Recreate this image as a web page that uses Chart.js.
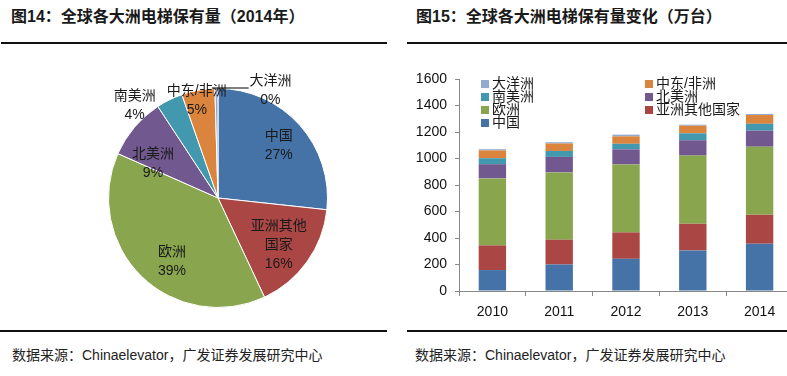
<!DOCTYPE html>
<html>
<head>
<meta charset="utf-8">
<script src="https://cdn.jsdelivr.net/npm/chart.js@4/dist/chart.umd.min.js"></script>
<style>
  html, body { margin:0; padding:0; background:#fff; }
  #wrap { position:relative; width:787px; height:376px; overflow:hidden; background:#fff; }
  .title { position:absolute; font: bold 16px 'Liberation Sans','Noto Sans CJK SC',sans-serif; color:#1a1a1a; line-height:16px; white-space:nowrap; }
  .src { position:absolute; font: 14px 'Liberation Sans','Noto Sans CJK SC',sans-serif; color:#222; line-height:14px; white-space:nowrap; }
  .rule { position:absolute; height:2px; background:#111; }
  canvas { position:absolute; }
</style>
</head>
<body>
<div id="wrap">
  <div class="title" style="left:11px;top:9px;">图14：全球各大洲电梯保有量（2014年）</div>
  <div class="title" style="left:416px;top:9px;">图15：全球各大洲电梯保有量变化（万台）</div>
  <div class="rule" style="left:1px;top:42px;width:386px;"></div>
  <div class="rule" style="left:407px;top:42px;width:380px;"></div>
  <canvas id="pie" width="400" height="286" style="left:0;top:44px;width:400px;height:286px;"></canvas>
  <canvas id="bar" width="393" height="270" style="left:400px;top:60px;width:393px;height:270px;"></canvas>
  <div class="rule" style="left:0;top:330px;width:387px;"></div>
  <div class="rule" style="left:407px;top:330px;width:380px;"></div>
  <div class="src" style="left:12px;top:348px;">数据来源：Chinaelevator，广发证券发展研究中心</div>
  <div class="src" style="left:415px;top:348px;">数据来源：Chinaelevator，广发证券发展研究中心</div>
</div>
<script>
// ---------- data ----------
const regions = ['中国', '亚洲其他国家', '欧洲', '北美洲', '南美洲', '中东/非洲', '大洋洲'];
const pieShares2014 = [26.7, 16.3, 38.6, 9.1, 3.9, 4.9, 0.45];
const years = ['2010', '2011', '2012', '2013', '2014'];
const china       = [158, 200, 243, 306, 357];
const otherAsia   = [186, 187, 199, 201, 218];
const europe      = [506, 508, 513, 515, 514];
const northAm     = [107, 117, 114, 116, 121];
const southAm     = [45, 45, 42, 52, 52];
const meAfrica    = [59, 56, 56, 57, 66];
const oceania     = [9, 10, 13, 8, 8];
const yTicks = [0, 200, 400, 600, 800, 1000, 1200, 1400, 1600];

// ---------- style ----------
const colors = ['#4572A7', '#AA4643', '#89A54E', '#71588F', '#4198AF', '#DB843D', '#93A9CF'];
const FONT = "'Liberation Sans','Noto Sans CJK SC',sans-serif";
Chart.defaults.font.family = FONT;
Chart.defaults.color = '#111';

// label offsets from pie centre, in units of radius
const pieLabelPos = [[0.555,-0.477],[0.555,0.43],[-0.42,0.584],[-0.594,-0.314],[-0.761,-0.845],[-0.194,-0.888],[0.479,-0.979]];

const pieLabelPlugin = {
  id: 'pieLabels',
  afterDraw(chart) {
    const ctx = chart.ctx;
    const meta = chart.getDatasetMeta(0);
    const data = chart.data.datasets[0].data;
    const total = data.reduce((a, b) => a + b, 0);
    ctx.save();
    ctx.font = '14px ' + FONT;
    ctx.fillStyle = '#1a1a1a';
    ctx.textAlign = 'center';
    ctx.textBaseline = 'middle';
    meta.data.forEach((arc, i) => {
      const cx = arc.x, cy = arc.y, r = arc.outerRadius;
      const name = chart.data.labels[i];
      const lines = name.length > 5 ? [name.slice(0, 4), name.slice(4)] : [name];
      lines.push(Math.round(data[i] / total * 100) + '%');
      const lh = 19;
      const bx = cx + pieLabelPos[i][0] * r;
      const by = cy + pieLabelPos[i][1] * r;
      const y0 = by - (lines.length - 1) * lh / 2;
      lines.forEach((t, k) => ctx.fillText(t, bx, y0 + k * lh));
      if (i === data.length - 1) {
        ctx.strokeStyle = '#000';
        ctx.lineWidth = 1;
        ctx.beginPath();
        ctx.moveTo(cx - 0.055 * r, cy - r - 0.5);
        ctx.lineTo(cx + 0.28 * r, cy - r - 0.5);
        ctx.stroke();
      }
    });
    ctx.restore();
  }
};

new Chart(document.getElementById('pie'), {
  type: 'pie',
  data: {
    labels: regions,
    datasets: [{ data: pieShares2014, backgroundColor: colors, borderColor: '#fff', borderWidth: 1 }]
  },
  options: {
    responsive: false, animation: false, devicePixelRatio: 1,
    layout: { padding: { left: 108, right: 72, top: 44, bottom: 22 } },
    plugins: { legend: { display: false }, tooltip: { enabled: false } }
  },
  plugins: [pieLabelPlugin]
});

const barLegendPlugin = {
  id: 'barLegend',
  afterDraw(chart) {
    const ctx = chart.ctx;
    const a = chart.chartArea;
    const ds = chart.data.datasets.slice().reverse();
    ctx.save();
    ctx.font = '14px ' + FONT;
    ctx.textBaseline = 'middle';
    ctx.textAlign = 'left';
    ds.forEach((d, i) => {
      const col = i % 2, row = Math.floor(i / 2);
      const x = a.left + (col === 0 ? 22 : 186);
      const y = a.top + 5 + row * 13;
      ctx.fillStyle = d.backgroundColor;
      ctx.fillRect(x, y - 4, 8, 8);
      ctx.fillStyle = '#1a1a1a';
      ctx.fillText(d.label, x + 11, y);
    });
    ctx.restore();
  }
};

const series = [china, otherAsia, europe, northAm, southAm, meAfrica, oceania];
new Chart(document.getElementById('bar'), {
  type: 'bar',
  data: {
    labels: years,
    datasets: series.map((s, i) => ({
      label: regions[i], data: s, backgroundColor: colors[i],
      categoryPercentage: 1, barPercentage: 0.41
    }))
  },
  options: {
    responsive: false, animation: false, devicePixelRatio: 1,
    layout: { padding: { top: 19, left: 0, right: 0, bottom: 0 } },
    plugins: { legend: { display: false }, tooltip: { enabled: false } },
    scales: {
      x: {
        stacked: true,
        grid: { offset: true, drawOnChartArea: false, drawTicks: true, tickLength: 5, color: '#888' },
        border: { color: '#888', width: 1 },
        ticks: { font: { size: 14 }, color: '#111', padding: 8, maxRotation: 0 },
        afterFit(scale) { scale.height = 39; }
      },
      y: {
        stacked: true, min: 0, max: 1600,
        grid: { drawOnChartArea: false, tickLength: 4, color: '#888' },
        border: { color: '#888', width: 1 },
        afterBuildTicks(scale) { scale.ticks = yTicks.map(v => ({ value: v })); },
        ticks: { font: { size: 14 }, color: '#111', padding: 8, callback: v => String(v) },
        afterFit(scale) { scale.width = 59; }
      }
    }
  },
  plugins: [barLegendPlugin]
});
</script>
</body>
</html>
